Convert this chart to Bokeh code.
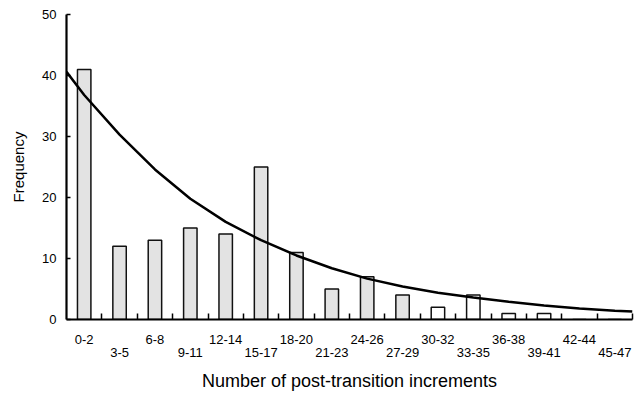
from bokeh.plotting import figure
from bokeh.models import FixedTicker, LinearAxis, Range1d
from bokeh.embed import file_html
from bokeh.resources import INLINE

# ---- data ----
bins = ["0-2", "3-5", "6-8", "9-11", "12-14", "15-17", "18-20", "21-23",
        "24-26", "27-29", "30-32", "33-35", "36-38", "39-41", "42-44", "45-47"]
freq = [41, 12, 13, 15, 14, 25, 11, 5, 7, 4, 2, 4, 1, 1, 0, 0]
shaded = [True, True, True, True, True, True, True, True,
          True, True, False, False, False, False, False, False]
curve_x = [-0.5, 0, 1, 2, 3, 4, 5, 6, 7, 8, 9, 10, 11, 12, 13, 14, 15, 15.5]
curve_y = [40.6, 36.8, 30.3, 24.6, 19.8, 16.0, 13.0, 10.5, 8.4, 6.7,
           5.4, 4.4, 3.6, 2.9, 2.3, 1.8, 1.45, 1.3]
y_ticks = [0, 10, 20, 30, 40, 50]

FONT = "Liberation Sans"

idx = list(range(len(bins)))
p = figure(width=638, height=394, output_backend="svg", toolbar_location=None,
           x_range=Range1d(-0.5, len(bins) - 0.5), y_range=Range1d(0, 50),
           min_border_left=66, min_border_right=6, min_border_top=14,
           min_border_bottom=75)
p.grid.visible = False
p.outline_line_color = None
p.background_fill_color = "white"
p.border_fill_color = "white"

colors = ["#e3e3e3" if s else "white" for s in shaded]
p.vbar(x=idx, top=freq, width=0.38, bottom=0, fill_color=colors,
       line_color="#111111", line_width=1.5)
p.line(curve_x, curve_y, line_color="black", line_width=2.5)

# main x axis: boundary ticks (minor), even-bin labels
even = [i for i in idx if i % 2 == 0]
odd = [i for i in idx if i % 2 == 1]
bounds = [i + 0.5 for i in idx]
xa = p.xaxis[0]
xa.ticker = FixedTicker(ticks=even, minor_ticks=bounds)
xa.major_label_overrides = {i: bins[i] for i in even}
xa.major_tick_in = 0
xa.major_tick_out = 0
xa.major_tick_line_color = None
xa.minor_tick_in = 6
xa.minor_tick_out = 0
xa.minor_tick_line_width = 1.5
xa.minor_tick_line_color = "black"
xa.axis_line_width = 2.2
xa.axis_line_color = "black"
xa.major_label_standoff = 15
xa.major_label_text_font = FONT
xa.major_label_text_font_size = "13px"
xa.major_label_text_color = "black"

xb = LinearAxis(ticker=FixedTicker(ticks=odd))
xb.major_label_overrides = {i: bins[i] for i in odd}
xb.axis_line_color = None
xb.major_tick_line_color = None
xb.minor_tick_line_color = None
xb.major_tick_in = 0
xb.major_tick_out = 0
xb.minor_tick_in = 0
xb.minor_tick_out = 0
xb.major_label_standoff = 1
xb.major_label_text_font = FONT
xb.major_label_text_font_size = "13px"
xb.major_label_text_color = "black"
xb.axis_label = "Number of post-transition increments"
xb.axis_label_standoff = 11
xb.axis_label_text_font = FONT
xb.axis_label_text_font_size = "18px"
xb.axis_label_text_font_style = "normal"
xb.axis_label_text_color = "black"
p.add_layout(xb, "below")

ya = p.yaxis[0]
ya.ticker = FixedTicker(ticks=y_ticks)
ya.major_tick_in = 4
ya.major_tick_out = 0
ya.major_tick_line_width = 1.5
ya.minor_tick_line_color = None
ya.axis_line_width = 2.2
ya.axis_line_color = "black"
ya.major_label_standoff = 10
ya.major_label_text_font = FONT
ya.major_label_text_font_size = "13px"
ya.major_label_text_color = "black"
ya.axis_label = "Frequency"
ya.axis_label_standoff = 12
ya.axis_label_text_font = FONT
ya.axis_label_text_font_size = "15px"
ya.axis_label_text_font_style = "normal"
ya.axis_label_text_color = "black"

open("out.html", "w").write(file_html(p, INLINE))
